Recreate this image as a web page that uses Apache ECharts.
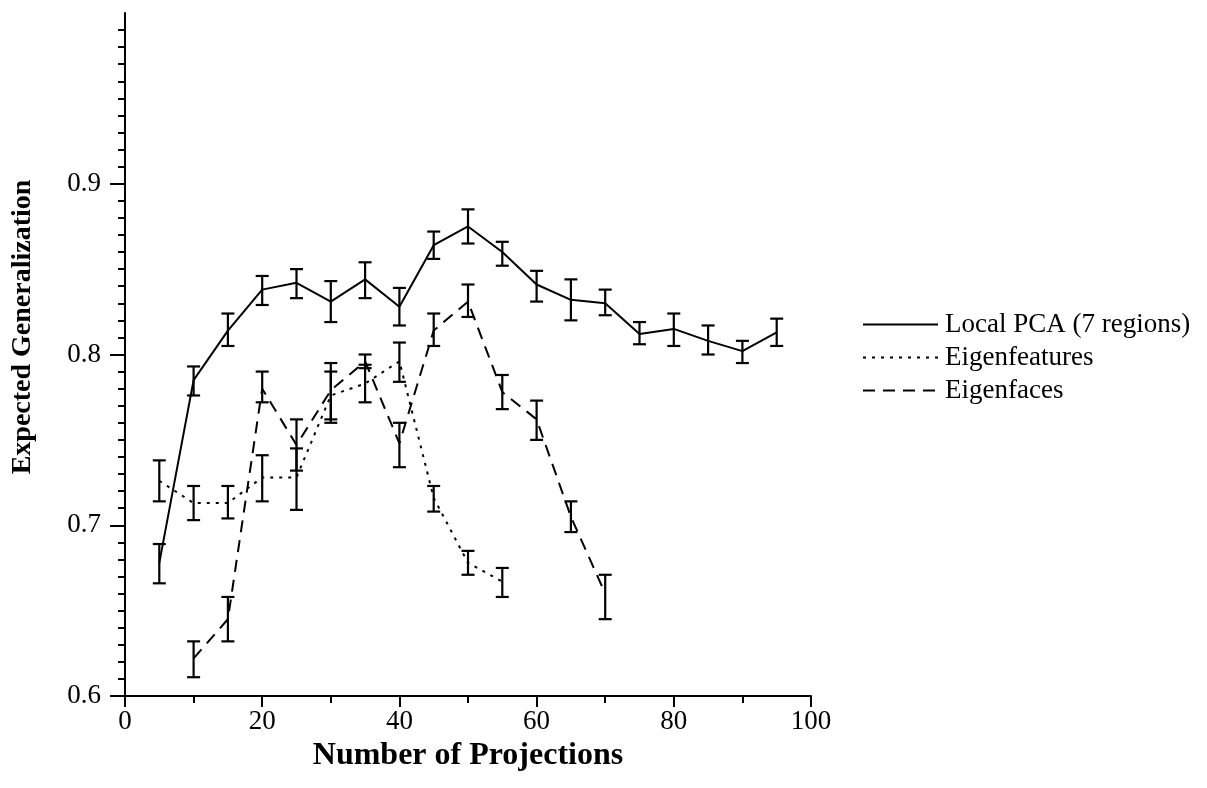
<!DOCTYPE html>
<html>
<head>
<meta charset="utf-8">
<script src="https://cdn.jsdelivr.net/npm/echarts@6/dist/echarts.min.js"></script>
<style>
  html, body { margin: 0; padding: 0; background: #fff; }
  #chart { width: 1207px; height: 788px; }
</style>
</head>
<body>
<div id="chart"></div>
<script>
// number of projections
const localX = [5, 10, 15, 20, 25, 30, 35, 40, 45, 50, 55, 60, 65, 70, 75, 80, 85, 90, 95];
const localY = [0.678, 0.785, 0.814, 0.838, 0.842, 0.831, 0.844, 0.828, 0.864, 0.875, 0.860, 0.841, 0.832, 0.830, 0.812, 0.815, 0.808, 0.802, 0.813];
const localLo = [0.666, 0.776, 0.805, 0.829, 0.833, 0.819, 0.833, 0.817, 0.856, 0.865, 0.852, 0.831, 0.820, 0.823, 0.806, 0.805, 0.800, 0.795, 0.805];
const localHi = [0.689, 0.793, 0.824, 0.846, 0.850, 0.843, 0.854, 0.839, 0.872, 0.885, 0.866, 0.849, 0.844, 0.838, 0.819, 0.824, 0.817, 0.808, 0.821];

const featX = [5, 10, 15, 20, 25, 30, 35, 40, 45, 50, 55];
const featY = [0.726, 0.713, 0.713, 0.728, 0.728, 0.776, 0.783, 0.796, 0.716, 0.678, 0.667];
const featLo = [0.714, 0.703, 0.704, 0.714, 0.709, 0.760, 0.772, 0.784, 0.708, 0.671, 0.658];
const featHi = [0.738, 0.723, 0.723, 0.741, 0.745, 0.790, 0.794, 0.807, 0.723, 0.685, 0.675];

const faceX = [10, 15, 20, 25, 30, 35, 40, 45, 50, 55, 60, 65, 70];
const faceY = [0.622, 0.645, 0.780, 0.747, 0.779, 0.796, 0.748, 0.814, 0.831, 0.778, 0.762, 0.705, 0.660];
const faceLo = [0.611, 0.632, 0.772, 0.732, 0.762, 0.792, 0.734, 0.805, 0.822, 0.768, 0.750, 0.696, 0.645];
const faceHi = [0.632, 0.658, 0.790, 0.762, 0.795, 0.800, 0.760, 0.824, 0.841, 0.788, 0.773, 0.714, 0.671];

const yTicks = [0.6, 0.7, 0.8, 0.9];

const FONT = 'Liberation Serif';

function pairs(xs, ys) {
  return xs.map((x, i) => [x, ys[i]]);
}
function bars(xs, lo, hi) {
  return xs.map((x, i) => [x, lo[i], hi[i]]);
}

// error bar with caps
function renderErr(params, api) {
  const x = api.value(0);
  const pLo = api.coord([x, api.value(1)]);
  const pHi = api.coord([x, api.value(2)]);
  const w = 6.5;
  const st = {stroke: '#000', lineWidth: 2.2};
  return {
    type: 'group',
    children: [
      {type: 'line', shape: {x1: pLo[0], y1: pLo[1], x2: pHi[0], y2: pHi[1]}, style: st},
      {type: 'line', shape: {x1: pLo[0] - w, y1: pLo[1], x2: pLo[0] + w, y2: pLo[1]}, style: st},
      {type: 'line', shape: {x1: pHi[0] - w, y1: pHi[1], x2: pHi[0] + w, y2: pHi[1]}, style: st}
    ]
  };
}

const chart = echarts.init(document.getElementById('chart'));

const option = {
  animation: false,
  backgroundColor: '#fff',
  textStyle: {fontFamily: FONT, color: '#000'},
  grid: {left: 125, top: 13, right: 396, bottom: 92, containLabel: false},
  legend: {
    orient: 'vertical',
    left: 857,
    top: 306,
    itemWidth: 75,
    itemHeight: 12,
    itemGap: 6,
    data: ['Local PCA (7 regions)', 'Eigenfeatures', 'Eigenfaces'],
    itemStyle: {opacity: 0},
    textStyle: {fontFamily: FONT, fontSize: 27, color: '#000', padding: [0, 0, 0, 2]},
    selectedMode: false
  },
  xAxis: {
    type: 'value',
    min: 0,
    max: 100,
    interval: 20,
    name: 'Number of Projections',
    nameLocation: 'middle',
    nameGap: 36,
    nameTextStyle: {fontFamily: FONT, fontSize: 32, fontWeight: 'bold', color: '#000'},
    axisLine: {show: true, onZero: false, lineStyle: {color: '#000', width: 2}},
    axisTick: {show: true, length: 11, lineStyle: {color: '#000', width: 2}},
    minorTick: {show: true, splitNumber: 2, length: 7, lineStyle: {color: '#000', width: 2}},
    axisLabel: {fontFamily: FONT, fontSize: 27, color: '#000', margin: 12},
    splitLine: {show: false}
  },
  yAxis: {
    type: 'value',
    min: 0.6,
    max: 1.0,
    interval: 0.1,
    axisLine: {show: true, onZero: false, lineStyle: {color: '#000', width: 2}},
    axisTick: {show: true, length: 15, customValues: yTicks, lineStyle: {color: '#000', width: 2}},
    minorTick: {show: true, splitNumber: 10, length: 7, lineStyle: {color: '#000', width: 2}},
    axisLabel: {
      fontFamily: FONT, fontSize: 27, color: '#000', margin: 24,
      customValues: yTicks,
      formatter: v => (v > 0.95 ? '' : v.toFixed(1))
    },
    splitLine: {show: false}
  },
  graphic: [{
    type: 'text',
    x: 23,
    y: 327,
    rotation: Math.PI / 2,
    style: {
      text: 'Expected Generalization',
      fontFamily: FONT,
      fontSize: 28,
      fontWeight: 'bold',
      fill: '#000',
      align: 'center',
      verticalAlign: 'middle'
    }
  }],
  series: [
    {
      name: 'Local PCA (7 regions)',
      type: 'line',
      data: pairs(localX, localY),
      symbol: 'none',
      lineStyle: {color: '#000', width: 2, type: 'solid'},
      itemStyle: {color: '#000'}
    },
    {
      name: 'Eigenfeatures',
      type: 'line',
      data: pairs(featX, featY),
      symbol: 'none',
      lineStyle: {color: '#000', width: 2, type: [3, 6]},
      itemStyle: {color: '#000'}
    },
    {
      name: 'Eigenfaces',
      type: 'line',
      data: pairs(faceX, faceY),
      symbol: 'none',
      lineStyle: {color: '#000', width: 2, type: [12, 8]},
      itemStyle: {color: '#000'}
    },
    {
      type: 'custom',
      renderItem: renderErr,
      encode: {x: 0, y: [1, 2]},
      data: bars(localX, localLo, localHi),
      z: 3
    },
    {
      type: 'custom',
      renderItem: renderErr,
      encode: {x: 0, y: [1, 2]},
      data: bars(featX, featLo, featHi),
      z: 3
    },
    {
      type: 'custom',
      renderItem: renderErr,
      encode: {x: 0, y: [1, 2]},
      data: bars(faceX, faceLo, faceHi),
      z: 3
    }
  ]
};

chart.setOption(option);
</script>
</body>
</html>
